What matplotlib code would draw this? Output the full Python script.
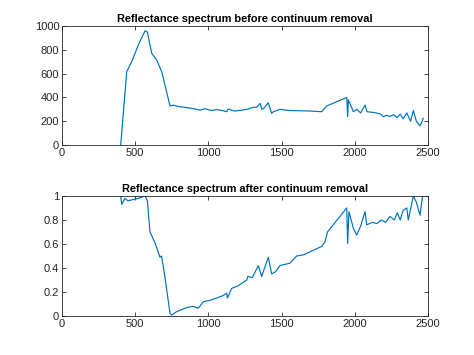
import matplotlib
matplotlib.use("Agg")
import matplotlib.pyplot as plt

# values
wl_before = [401, 442, 476, 521, 567, 583, 613, 647, 681, 738, 760, 800, 850, 900,
             943, 980, 1020, 1060, 1100, 1125, 1135, 1180, 1220, 1262, 1290, 1307,
             1330, 1352, 1366, 1380, 1409, 1432, 1444, 1489, 1550, 1626, 1700,
             1774, 1808, 1945, 1951, 1956, 1990, 2013, 2040, 2070, 2083, 2120,
             2152, 2175, 2195, 2215, 2240, 2265, 2290, 2310, 2330, 2355, 2380,
             2400, 2420, 2445, 2468]
refl_before = [0, 616, 700, 840, 960, 950, 770, 714, 616, 328, 335, 322, 315, 305,
               294, 305, 290, 298, 288, 280, 302, 285, 292, 300, 310, 317,
               317, 350, 300, 310, 355, 266, 280, 300, 290, 288, 285,
               280, 328, 400, 238, 380, 280, 300, 270, 336, 280, 275,
               268, 260, 238, 250, 240, 255, 230, 260, 220, 270, 200,
               290, 200, 160, 224]

wl_after = [401, 408, 430, 450, 476, 520, 567, 583, 601, 635, 669, 680, 700, 738,
            749, 783, 852, 897, 931, 966, 1010, 1057, 1100, 1125, 1130, 1159,
            1200, 1262, 1270, 1300, 1341, 1364, 1409, 1432, 1460, 1489, 1557,
            1603, 1650, 1694, 1774, 1797, 1813, 1945, 1951, 1960, 1990, 2013,
            2040, 2070, 2081, 2120, 2152, 2180, 2210, 2240, 2270, 2290, 2310,
            2330, 2355, 2365, 2400, 2420, 2445, 2468]
refl_after = [0.995, 0.93, 0.98, 0.96, 0.967, 0.98, 1.0, 0.96, 0.70, 0.61, 0.49, 0.50, 0.35, 0.02,
              0.008, 0.036, 0.07, 0.08, 0.064, 0.12, 0.13, 0.15, 0.17, 0.19, 0.15, 0.23,
              0.25, 0.30, 0.33, 0.32, 0.42, 0.33, 0.49, 0.35, 0.37, 0.42, 0.44,
              0.50, 0.51, 0.535, 0.58, 0.62, 0.70, 0.90, 0.605, 0.87, 0.73, 0.675,
              0.75, 0.87, 0.76, 0.78, 0.77, 0.80, 0.78, 0.83, 0.80, 0.86, 0.80,
              0.88, 0.90, 0.80, 1.0, 0.95, 0.84, 1.05]

x_ticks = [0, 500, 1000, 1500, 2000, 2500]
line_color = "#0072BD"
axis_color = "#262626"

plt.rcParams["font.family"] = ["Liberation Sans", "DejaVu Sans"]

fig = plt.figure(figsize=(4.74, 3.55), dpi=100)
ax1 = fig.add_axes([0.1308, 0.5915, 0.7722, 0.3352])
ax2 = fig.add_axes([0.1308, 0.1099, 0.7722, 0.3380])

panels = [
    (ax1, wl_before, refl_before, (0, 1000), [0, 200, 400, 600, 800, 1000],
     ["0", "200", "400", "600", "800", "1000"],
     "Reflectance spectrum before continuum removal"),
    (ax2, wl_after, refl_after, (0, 1), [0, 0.2, 0.4, 0.6, 0.8, 1],
     ["0", "0.2", "0.4", "0.6", "0.8", "1"],
     "Reflectance spectrum after continuum removal"),
]

for ax, x, y, ylim, yt, ytl, title in panels:
    ax.plot(x, y, color=line_color, lw=0.85)
    ax.set_xlim(0, 2500)
    ax.set_ylim(*ylim)
    ax.set_xticks(x_ticks)
    ax.set_xticklabels([str(t) for t in x_ticks])
    ax.set_yticks(yt)
    ax.set_yticklabels(ytl)
    ax.tick_params(direction="in", top=True, right=True, length=3, width=0.6,
                   labelsize=8, colors=axis_color, pad=2)
    for sp in ax.spines.values():
        sp.set_color(axis_color)
        sp.set_linewidth(0.6)
    ax.set_title(title, fontsize=7.9, fontweight="bold", pad=3)

fig.savefig("out.png", dpi=100)
